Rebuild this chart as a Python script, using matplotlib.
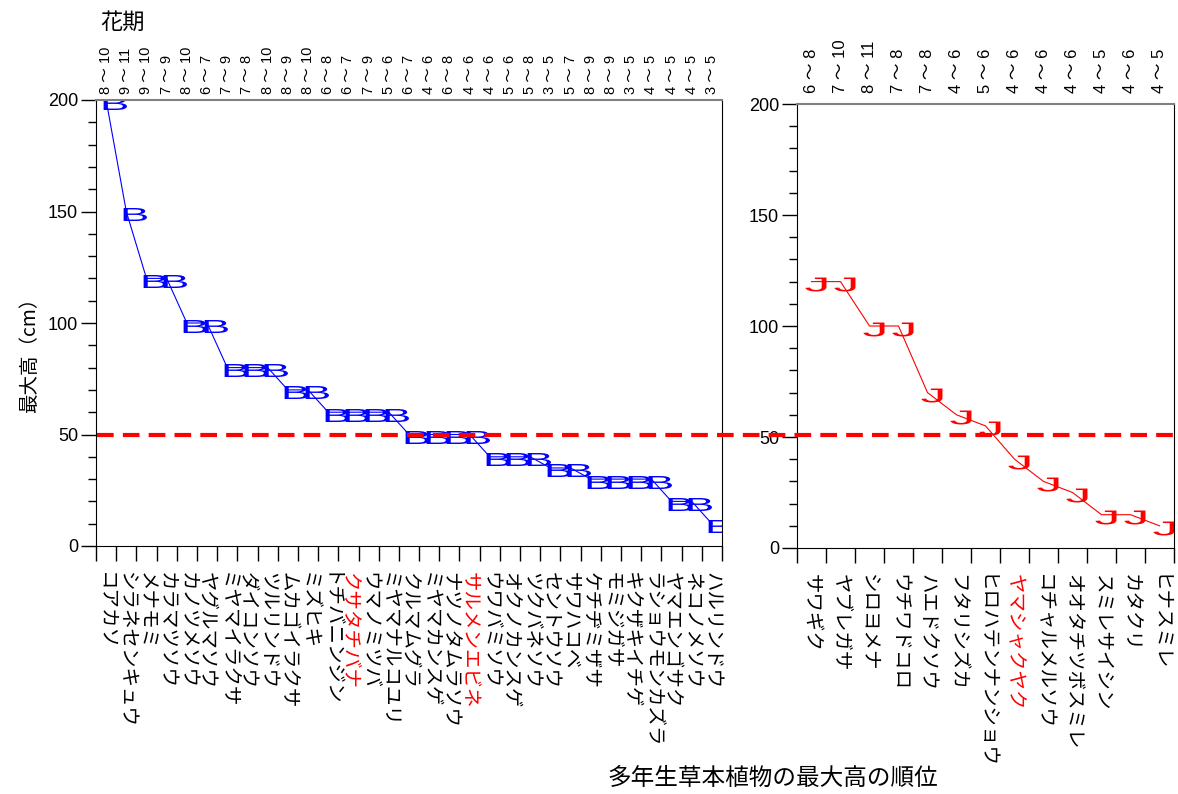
import numpy as np
import matplotlib.pyplot as plt
import matplotlib.transforms as mtransforms
from matplotlib.textpath import TextPath
from matplotlib.font_manager import FontProperties
from matplotlib.path import Path
from matplotlib.lines import Line2D
from matplotlib.ticker import MultipleLocator, FixedLocator

plt.rcParams['font.family'] = ['Liberation Sans', 'Noto Sans CJK JP', 'DejaVu Sans']

# left panel (B)
names_b = ['コアカソ', 'シラネセンキュウ', 'メナモミ', 'カラマツソウ', 'カノツメソウ',
           'ヤグルマソウ', 'ミヤマイラクサ', 'ダイコンソウ', 'ツルリンドウ', 'ムカゴイラクサ',
           'ミズヒキ', 'トチバニンジン', 'クサタチバナ', 'ウマノミツバ', 'ミヤマナルコユリ',
           'クルマムグラ', 'ミヤマカンスゲ', 'ナツノタムラソウ', 'サルメンエビネ', 'ウワバミソウ',
           'オクノカンスゲ', 'ツクバネソウ', 'セントウソウ', 'サワハコベ', 'ケチヂミザサ',
           'モミジガサ', 'キクザキイチゲ', 'ラショウモンカズラ', 'ヤマエンゴサク', 'ネコノメソウ',
           'ハルリンドウ']
heights_b = [200, 150, 120, 120, 100, 100, 80, 80, 80, 70, 70, 60, 60, 60, 60,
             50, 50, 50, 50, 40, 40, 40, 35, 35, 30, 30, 30, 30, 20, 20, 10]
flower_b = ['8~10', '9~11', '9~10', '7~9', '8~10', '6~7', '7~9', '7~8', '8~10', '8~9',
            '8~10', '6~8', '6~7', '7~9', '5~6', '6~7', '4~6', '6~8', '4~6', '4~6',
            '5~6', '5~8', '3~5', '5~7', '8~9', '8~9', '3~5', '4~5', '4~5', '4~5', '3~5']

# right panel (J)
names_j = ['サワギク', 'ヤブレガサ', 'シロヨメナ', 'ウチワドコロ', 'ハエドクソウ', 'フタリシズカ',
           'ヒロハテンナンショウ', 'ヤマシャクヤク', 'コチャルメルソウ', 'オオタチツボスミレ',
           'スミレサイシン', 'カタクリ', 'ヒナスミレ']
heights_j = [120, 120, 100, 100, 70, 60, 55, 40, 30, 25, 15, 15, 10]
flower_j = ['6~8', '7~10', '8~11', '7~8', '7~8', '4~6', '5~6', '4~6', '4~6',
            '4~6', '4~5', '4~6', '4~5']

red_names = ['クサタチバナ', 'サルメンエビネ', 'ヤマシャクヤク']
threshold = 50


def letter_marker(ch, aspect):
    tp = TextPath((0, 0), ch, size=1, prop=FontProperties(family='Liberation Sans'))
    v = tp.vertices.copy()
    x0, y0 = v.min(axis=0)
    x1, y1 = v.max(axis=0)
    v[:, 0] -= (x0 + x1) / 2
    v[:, 1] -= (y0 + y1) / 2
    v[:, 0] *= aspect * (y1 - y0) / (x1 - x0)
    return Path(v, tp.codes)


W, H = 1178, 794
fig = plt.figure(figsize=(W / 100, H / 100), dpi=100)
ax1 = fig.add_axes([96 / W, (H - 546) / H, 626 / W, 446 / H])
ax2 = fig.add_axes([797 / W, (H - 548) / H, 377 / W, 444 / H])


def draw_panel(ax, names, heights, flowers, color, ch, aspect, ms, dx, top_pad, top_size):
    n = len(names)
    xs = np.arange(n) + 0.5
    ax.plot(xs, heights, color=color, lw=0.8)
    off = ax.transData + mtransforms.ScaledTranslation(dx / 100, -2.5 / 100, fig.dpi_scale_trans)
    ax.plot(xs, heights, ls='none', marker=letter_marker(ch, aspect), ms=ms,
            color=color, mec='none', transform=off)
    ax.set_xlim(0, n)
    ax.set_ylim(0, 200)
    ax.set_xticks(xs, names, rotation=-90, fontsize=14, family='Noto Sans CJK JP')
    for lbl in ax.get_xticklabels():
        if lbl.get_text() in red_names:
            lbl.set_color('red')
    ax.xaxis.set_minor_locator(FixedLocator(np.arange(n + 1)))
    ax.tick_params(axis='x', which='major', length=0, pad=19)
    ax.tick_params(axis='x', which='minor', length=11, width=1)
    ax.yaxis.set_major_locator(MultipleLocator(50))
    ax.yaxis.set_minor_locator(MultipleLocator(10))
    ax.tick_params(axis='y', which='major', length=11, width=1, labelsize=13, pad=2)
    ax.tick_params(axis='y', which='minor', length=6, width=1)
    ax.spines['top'].set_color('#808080')
    ax.spines['top'].set_linewidth(1.5)
    for i, f in enumerate(flowers):
        txt = f.replace('~', ' ～ ')
        ax.annotate(txt, xy=(xs[i], 1), xycoords=('data', 'axes fraction'),
                    xytext=(0, top_pad), textcoords='offset points',
                    rotation=90, ha='center', va='bottom', fontsize=top_size)


draw_panel(ax1, names_b, heights_b, flower_b, 'blue', 'B', 27 / 13, 19.4, 6.5, 4, 10.5)
draw_panel(ax2, names_j, heights_j, flower_j, 'red', 'J', 22 / 14, 15.8, 3, 8, 12)

# 50cm line across both panels
tr = mtransforms.blended_transform_factory(fig.transFigure, ax1.transData)
fig.add_artist(Line2D([97 / W, 1173 / W], [threshold, threshold], transform=tr,
                      color='red', lw=3, dashes=(4, 2.2)))

fig.text(100 / W, 1 - 22 / H, '花期', fontsize=16, ha='left', va='center',
         family='Noto Sans CJK JP')
fig.text(30 / W, 1 - 350 / H, '最大高（cm）', fontsize=14, rotation=90,
         ha='center', va='center', family='Noto Sans CJK JP')
fig.text(773 / W, 1 - 778 / H, '多年生草本植物の最大高の順位', fontsize=17,
         ha='center', va='center', family='Noto Sans CJK JP')

fig.savefig('out.png', dpi=100)
